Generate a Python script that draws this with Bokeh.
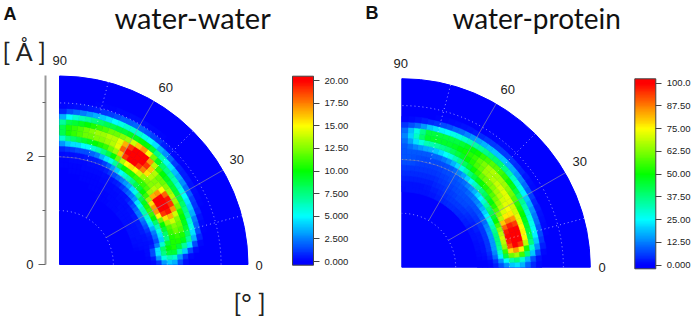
from math import pi, cos, sin
from bokeh.plotting import figure
from bokeh.layouts import row, column
from bokeh.models import (ColumnDataSource, LinearColorMapper, ColorBar, FixedTicker, LinearAxis, Label, Range1d)
from bokeh.embed import file_html
from bokeh.resources import INLINE

thetas = [1.25, 3.75, 6.25, 8.75, 11.25, 13.75, 16.25, 18.75, 21.25, 23.75, 26.25, 28.75,
          31.25, 33.75, 36.25, 38.75, 41.25, 43.75, 46.25, 48.75, 51.25, 53.75, 56.25, 58.75,
          61.25, 63.75, 66.25, 68.75, 71.25, 73.75, 76.25, 78.75, 81.25, 83.75, 86.25, 88.75]
radii = [1.45, 1.55, 1.65, 1.75, 1.85, 1.95, 2.05, 2.15, 2.25, 2.35, 2.45, 2.55, 2.65, 2.75, 2.85, 2.95, 3.05]

# one row per angle, one value per radius; rows stop where the remaining values are zero
water_water = [
    [0, 0, 0, .2, 1, 3, 4, 3.5, 1.5, .3],
    [0, 0, .1, .5, 3, 5.5, 6.5, 6, 3, 1, .2],
    [0, 0, .2, 1.5, 4.5, 7.5, 9, 9, 6.5, 4, 1.5, .3],
    [0, 0, .2, 1.5, 4.5, 8, 10, 10.5, 9, 7, 4.5, 1.5, .2],
    [.1, .2, .3, .6, 2.5, 6, 9, 10.5, 10.5, 9.5, 7, 3.5, .8],
    [.2, .3, .3, .4, 1.5, 4, 7.5, 10.5, 11, 10.5, 8, 4.5, 1.5, .1],
    [.3, .3, .4, .5, 2, 4.5, 8, 11, 12, 11.5, 9, 5.5, 2, .2],
    [.3, .4, .4, .7, 2.5, 5.5, 9, 11.5, 12.5, 12, 9.5, 6, 2.5, .4],
    [.4, .4, .5, 1, 3.5, 6.5, 10, 13, 14, 12.5, 10, 7, 3.5, .8],
    [.4, .4, .5, 1.5, 4.5, 8, 12, 15.5, 16.5, 14, 10.5, 7.5, 4, 1, .1],
    [.4, .4, .5, 2, 5.5, 10, 15, 19, 19.5, 17, 12, 8, 4.5, 1.3, .2],
    [.3, .4, .5, 2.5, 6, 11, 17, 20, 21, 19, 13, 8.5, 5, 1.8, .3],
    [.3, .3, .5, 2.5, 6.5, 11, 17, 21, 21, 19.5, 13.5, 9, 5.5, 2.2, .4],
    [.3, .3, .5, 2.5, 6.5, 10.5, 15.5, 20, 20.5, 18, 13, 9, 6, 2.8, .5],
    [.3, .3, .4, 2, 5.5, 9.5, 13, 16.5, 17, 15, 12.5, 9, 6.5, 3.3, .6],
    [.3, .3, .4, 1.5, 4.5, 8.5, 11, 13, 13.5, 13, 12, 9.5, 7, 3.8, .8],
    [.3, .3, .3, 1, 3, 7, 10, 11.5, 12.5, 12.5, 12, 10, 7.5, 4.5, 1.2, .1],
    [.2, .3, .3, .6, 2.5, 5.5, 9, 11, 12.5, 13.5, 13.5, 11, 8, 5.5, 2, .2],
    [.2, .2, .3, .4, 2, 4.5, 8.5, 11, 13, 15.5, 16, 13.5, 9.5, 6.5, 2.8, .4],
    [.2, .2, .3, .4, 1.5, 3.5, 7.5, 11, 14, 17.5, 19, 17, 12, 7.5, 3.5, .6],
    [.2, .2, .2, .3, 1, 3, 6.5, 10.5, 15, 19, 21, 20, 15, 9, 4.5, 1, .1],
    [.1, .2, .2, .3, .7, 2.5, 6, 10.5, 15.5, 20, 21, 21, 17, 10, 5, 1.3, .2],
    [.1, .1, .2, .2, .5, 2, 5, 10, 15, 20, 21, 20.5, 16, 10, 5.5, 1.6, .2],
    [.1, .1, .2, .2, .4, 1.5, 4, 8.5, 13.5, 19, 20.5, 19, 14, 9.5, 6, 1.8, .3],
    [.1, .1, .1, .2, .3, 1, 3, 7, 12, 16, 18, 16.5, 13, 9.5, 6, 2, .3],
    [0, .1, .1, .2, .3, .6, 2, 5.5, 10, 13, 14.5, 14.5, 12.5, 9, 6, 1.8, .3],
    [0, .1, .1, .1, .2, .4, 1.2, 4.5, 8.5, 12, 13.5, 13.5, 12, 9, 5.5, 1.8, .2],
    [0, .1, .1, .1, .2, .3, .8, 3.5, 7.5, 11, 13, 13.5, 12, 8.5, 5, 1.5, .2],
    [0, 0, .1, .1, .2, .3, .6, 2.5, 6.5, 10.5, 12.5, 13, 11.5, 8.5, 4.5, 1.2, .1],
    [0, 0, .1, .1, .2, .3, .5, 2, 6, 10, 12.5, 13, 11, 8, 4, 1, .1],
    [0, 0, .1, .1, .2, .2, .5, 1.5, 5, 9.5, 12, 12.5, 10.5, 7.5, 3.5, .7, .1],
    [0, 0, 0, .1, .1, .2, .4, 1.5, 5, 9, 12, 12, 10, 7, 3, .5],
    [0, 0, 0, .1, .1, .2, .4, 1.5, 4.5, 8.5, 11.5, 11.5, 9.5, 6.5, 2.5, .4],
    [0, 0, 0, .1, .1, .2, .3, 1.2, 4.5, 8, 11, 11, 9, 6, 2, .3],
    [0, 0, 0, 0, .1, .1, .3, 1, 4, 7.5, 10.5, 10.5, 8.5, 5, 1.5, .2],
    [0, 0, 0, 0, .1, .1, .2, .8, 3, 6, 8.5, 8.5, 7, 3.5, .8, .1],
]

water_protein = [
    [0, 0, .5, 3, 8, 14, 20, 22, 18, 10, 4, 1],
    [0, 0, 1, 5, 14, 26, 34, 38, 30, 18, 8, 2],
    [.5, 1, 3, 10, 24, 44, 60, 65, 56, 38, 20, 7, 1],
    [1, 1.5, 4, 13, 30, 55, 78, 85, 76, 52, 30, 14, 3],
    [1, 2, 5, 15, 35, 64, 92, 100, 95, 68, 38, 20, 5, .3],
    [1.5, 2, 5, 15, 37, 68, 97, 105, 102, 74, 42, 24, 7, .7],
    [1.5, 2, 5, 15, 38, 70, 99, 105, 103, 76, 44, 26, 9, 1],
    [1.5, 2.5, 5, 15, 38, 68, 97, 103, 100, 75, 46, 27, 11, 1.5],
    [2, 2.5, 5, 15, 36, 63, 90, 97, 94, 73, 48, 28, 12, 2],
    [2, 2.5, 5, 14, 33, 57, 80, 87, 85, 72, 50, 30, 14, 3],
    [2, 3, 5, 13, 30, 50, 68, 77, 77, 70, 52, 33, 17, 4, .3],
    [2, 3, 5, 11, 27, 46, 62, 71, 74, 70, 54, 36, 20, 6, .5],
    [2.5, 3, 5, 10, 24, 42, 57, 67, 72, 72, 58, 40, 24, 9, 1],
    [3, 3.5, 5, 9, 21, 38, 53, 64, 70, 72, 61, 44, 27, 11, 1.5],
    [3, 4, 5.5, 8, 18, 34, 49, 61, 68, 72, 63, 48, 29, 13, 2.5],
    [3.5, 4.5, 6, 8, 15, 30, 45, 58, 66, 71, 65, 51, 31, 15, 3.5, .2],
    [3.5, 5, 6.5, 8, 13, 25, 41, 55, 63, 69, 66, 54, 34, 17, 4.5, .4],
    [4, 5, 7, 8, 12, 22, 38, 53, 62, 67, 66, 56, 37, 18, 5, .5],
    [4, 5.5, 7, 8, 11, 18, 34, 51, 61, 66, 67, 58, 40, 20, 6, .8],
    [4.5, 5.5, 7, 8, 10, 15, 31, 48, 59, 65, 66, 58, 40, 20, 6, 1],
    [4.5, 5.5, 7, 8, 9, 13, 26, 44, 55, 60, 62, 56, 39, 20, 6, 1],
    [4.5, 5.5, 6.5, 7.5, 9, 11, 21, 39, 51, 57, 59, 54, 37, 19, 5.5, .8],
    [4, 5, 6, 7, 8, 9.5, 16, 33, 46, 53, 55, 51, 35, 18, 5, .6],
    [3.5, 4.5, 5.5, 6.5, 7.5, 8.5, 13, 28, 41, 50, 53, 49, 34, 16, 4, .4],
    [3, 4, 5, 6, 7, 8, 10.5, 22, 36, 47, 51, 47, 32, 15, 3, .2],
    [3, 3.5, 4.5, 5.5, 6.5, 7.5, 9, 18, 32, 44, 49, 45, 30, 13, 2.5],
    [2.5, 3, 4, 5, 6, 7, 8, 14, 28, 41, 47, 44, 28, 11, 2],
    [2.5, 3, 3.5, 4.5, 5.5, 6.5, 7.5, 12, 25, 38, 46, 44, 27, 10, 1.5],
    [2, 2.5, 3, 4, 5, 6, 7, 10, 22, 36, 46, 44, 25, 8, 1],
    [2, 2.5, 3, 4, 5, 6, 7, 10, 20, 34, 46, 44, 24, 7, .8],
    [2, 2, 3, 4, 5, 6, 7, 9, 18, 33, 46, 44, 22, 5, .5],
    [2, 2, 3, 4, 5, 6, 7, 9, 17, 32, 46, 44, 20, 4, .3],
    [2, 2, 3, 4, 5, 6.5, 7.5, 9, 15, 28, 40, 37, 15, 3],
    [2, 2, 3, 4, 5, 7, 8, 9, 13, 22, 31, 28, 11, 2],
    [2, 2, 3, 4, 5.5, 7.5, 8.5, 9, 11, 16, 21, 19, 8, 1],
    [1.5, 2, 3, 4, 5.5, 7.5, 8.5, 8.5, 9, 11, 13, 11, 5, .5],
]

ticks_a = [0, 2.5, 5, 7.5, 10, 12.5, 15, 17.5, 20]
labels_a = ["0.000", "2.500", "5.000", "7.500", "10.00", "12.50", "15.00", "17.50", "20.00"]
ticks_b = [0, 12.5, 25, 37.5, 50, 62.5, 75, 87.5, 100]
labels_b = ["0.000", "12.50", "25.00", "37.50", "50.00", "62.50", "75.00", "87.50", "100.0"]

SCALE = 53.86
FONT = "Liberation Sans"
TITLE_FONT = "Lato"
WIDTH_A = 352
WIDTH_B = 340


def rainbow(n=256):
    stops = [(0, 0, 255), (0, 255, 255), (0, 255, 0), (255, 255, 0), (255, 0, 0)]
    out = []
    for i in range(n):
        t = i / (n - 1) * 4
        k = min(int(t), 3)
        f = t - k
        c = [round(stops[k][j] + (stops[k + 1][j] - stops[k][j]) * f) for j in range(3)]
        out.append("#%02x%02x%02x" % tuple(c))
    return out


def palette_between(low, high, vmax):
    base = rainbow()
    n = 256
    out = []
    for i in range(n):
        v = low + (high - low) * i / (n - 1)
        idx = max(0, min(255, round(v / vmax * 255)))
        out.append(base[idx])
    return out


def panel(table, vmax, ticks, labels, width, left, ox, oy, bar_x, bar_top, bar_bottom, tick_top, tick_bottom):
    p = figure(width=width, height=318, output_backend="svg", toolbar_location=None,
               x_axis_type=None, y_axis_type=None,
               x_range=Range1d((left - ox) / SCALE, (width - ox) / SCALE),
               y_range=Range1d((oy - 318) / SCALE, oy / SCALE),
               min_border_left=left, min_border_right=0, min_border_top=0, min_border_bottom=0,
               outline_line_color=None)
    p.grid.visible = False

    per_px = vmax / (tick_bottom - tick_top)
    low = -(bar_bottom - tick_bottom) * per_px
    high = vmax + (tick_top - bar_top) * per_px
    mapper = LinearColorMapper(palette=palette_between(low, high, vmax), low=low, high=high)

    p.wedge(x=[0], y=[0], radius=3.5, start_angle=0, end_angle=pi / 2, fill_color="#0000ff", line_color="#0000ff")

    th, rr, vv = [], [], []
    for t, vals in zip(thetas, table):
        for r, v in zip(radii, vals):
            th.append(t); rr.append(r); vv.append(v)
    src = ColumnDataSource(dict(
        inner=[r - 0.05 for r in rr], outer=[r + 0.05 for r in rr],
        start=[(t - 1.25) * pi / 180 for t in th], end=[(t + 1.25) * pi / 180 for t in th], v=vv))
    col = {"field": "v", "transform": mapper}
    p.annular_wedge(x=0, y=0, inner_radius="inner", outer_radius="outer", start_angle="start", end_angle="end",
                    source=src, fill_color=col, line_color=col, line_width=0.6)

    # polar grid
    for r, c in [(1, "#ffffff"), (2, "#c8c8c8"), (3, "#ffffff")]:
        p.arc(x=0, y=0, radius=r, start_angle=0, end_angle=pi / 2, line_color=c, line_width=1, line_dash="1 3", line_alpha=0.6)
    p.arc(x=0, y=0, radius=2, start_angle=0.3, end_angle=pi / 2, line_color="#909090", line_width=0.8, line_alpha=0.5)
    for a in [30, 60]:
        rad = a * pi / 180
        p.ray(x=[cos(rad)], y=[sin(rad)], length=2.5, angle=rad,
              line_color="#9a9aa5", line_width=1, line_alpha=0.6)
    for a in [15, 45, 75]:
        rad = a * pi / 180
        p.ray(x=[2 * cos(rad)], y=[2 * sin(rad)], length=1.5, angle=rad,
              line_color="#ffffff", line_width=1, line_dash="1 3", line_alpha=0.6)

    cb = ColorBar(color_mapper=mapper, ticker=FixedTicker(ticks=ticks),
                  major_label_overrides=dict(zip(ticks, labels)),
                  width=21, height=int(round(bar_bottom - bar_top)),
                  location=(bar_x - left, 318 - bar_bottom), padding=0, margin=0,
                  major_tick_in=0, major_tick_out=6, major_tick_line_color="#444444", major_tick_line_width=1,
                  minor_tick_line_color=None, bar_line_color="#444444", bar_line_width=1,
                  label_standoff=5, major_label_text_font=FONT, major_label_text_font_size="9.5px",
                  major_label_text_color="#222222", background_fill_alpha=0, border_line_color=None)
    p.add_layout(cb)
    return p


a = panel(water_water, 20, ticks_a, labels_a, WIDTH_A, 45, 59, 264, 292, 75.7, 264.7, 80, 261)
b = panel(water_protein, 100, ticks_b, labels_b, WIDTH_B, 0, 401.3 - WIDTH_A, 266.7, 634.3 - WIDTH_A, 78.3, 268.3, 82.7, 264.7)

axis = LinearAxis(ticker=FixedTicker(ticks=[0, 2], minor_ticks=[1, 3]), bounds=(0, 3.5),
                  axis_line_color="#999999", axis_line_width=2,
                  major_tick_in=0, major_tick_out=7, major_tick_line_color="#666666",
                  minor_tick_in=0, minor_tick_out=3, minor_tick_line_color="#666666",
                  major_label_standoff=5, major_label_text_font=FONT, major_label_text_font_size="13px",
                  major_label_text_color="#222222")
a.add_layout(axis, "left")

# transparent layer over both panels that carries the free-standing texts
t = figure(width=692, height=318, output_backend="svg", toolbar_location=None,
           x_axis_type=None, y_axis_type=None, x_range=Range1d(0, 692), y_range=Range1d(0, 318),
           min_border=0, outline_line_color=None, background_fill_alpha=0, border_fill_alpha=0,
           margin=(-318, 0, 0, 0))
t.grid.visible = False


def label(txt, x, y, font=FONT, size=13, style="normal", color="#222222"):
    t.add_layout(Label(x=x, y=318 - y, x_units="screen", y_units="screen", text=txt, text_font=font,
                       text_font_size=f"{size}px", text_font_style=style, text_color=color,
                       text_align="left", text_baseline="middle"))


label("A", 3, 13, size=18, style="bold", color="#111111")
label("water-water", 114, 17, font=TITLE_FONT, size=29, color="#111111")
label("[ Å ]", 2, 50, font=TITLE_FONT, size=25)
label("[°     ]", 233, 301, font=TITLE_FONT, size=25)
label("90", 52, 60)
label("60", 158, 87)
label("30", 229, 159)
label("0", 255, 265)

label("B", 365, 12, size=18, style="bold", color="#111111")
label("water-protein", 452, 17, font=TITLE_FONT, size=28, color="#111111")
label("90", 393, 63)
label("60", 500, 89)
label("30", 572, 161)
label("0", 598, 267)

layout = column(row(a, b, spacing=0), t, spacing=0)
open("out.html", "w").write(file_html(layout, INLINE))
